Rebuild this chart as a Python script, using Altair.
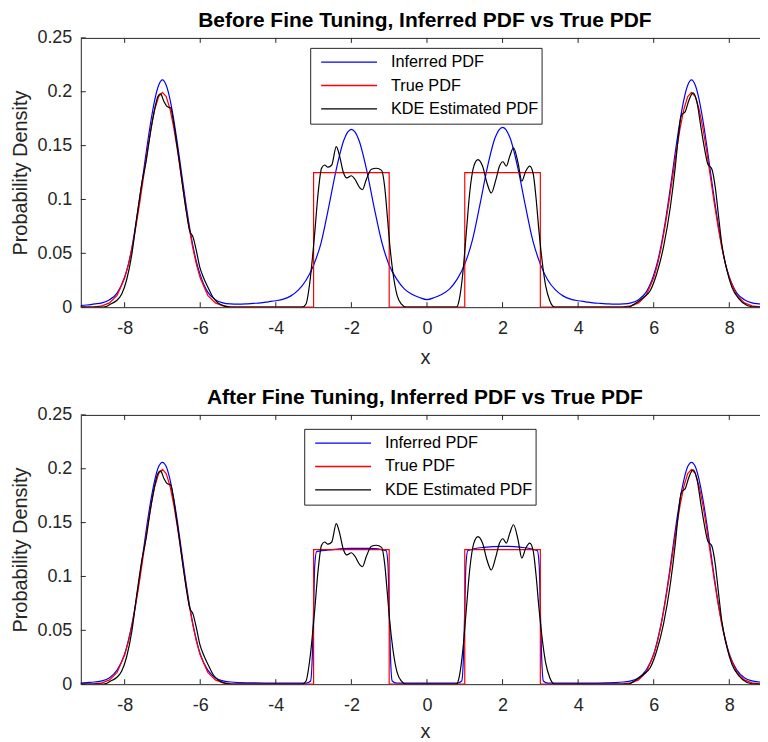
import altair as alt
import pandas as pd

FONT = "Liberation Sans"
AX = "#262626"

# ---------------- data ----------------
x_ticks = [-8, -6, -4, -2, 0, 2, 4, 6, 8]
y_ticks = [0, 0.05, 0.1, 0.15, 0.2, 0.25]
series_names = ["Inferred PDF", "True PDF", "KDE Estimated PDF"]
series_colors = ["#0000ff", "#ff0000", "#000000"]
panel_titles = ["Before Fine Tuning, Inferred PDF vs True PDF",
                "After Fine Tuning, Inferred PDF vs True PDF"]

# Inferred PDF before fine tuning (blue, top panel)
inf_before_x = [-9.2, -9.0, -8.8, -8.6, -8.4, -8.2, -8.0, -7.9, -7.8, -7.7, -7.6, -7.5, -7.4, -7.3, -7.2,
                -7.1, -7.0, -6.9, -6.8, -6.7, -6.6, -6.5, -6.4, -6.3, -6.2, -6.1, -6.0, -5.8, -5.6, -5.4,
                -5.2, -5.0, -4.8, -4.6, -4.4, -4.2, -4.0, -3.8, -3.6, -3.4, -3.2, -3.0, -2.8, -2.6, -2.4,
                -2.2, -2.0, -1.8, -1.6, -1.4, -1.2, -1.0, -0.8, -0.6, -0.4, -0.2, 0.0, 0.2, 0.4, 0.6,
                0.8, 1.0, 1.2, 1.4, 1.6, 1.8, 2.0, 2.2, 2.4, 2.6, 2.8, 3.0, 3.2, 3.4, 3.6,
                3.8, 4.0, 4.2, 4.4, 4.6, 4.8, 5.0, 5.2, 5.4, 5.6, 5.8, 6.0, 6.1, 6.2, 6.3,
                6.4, 6.5, 6.6, 6.7, 6.8, 6.9, 7.0, 7.1, 7.2, 7.3, 7.4, 7.5, 7.6, 7.7, 7.8,
                7.9, 8.0, 8.2, 8.4, 8.6, 8.8, 9.0, 9.2]
inf_before_y = [0.0015, 0.002, 0.003, 0.004, 0.007, 0.013, 0.028, 0.040, 0.057, 0.078, 0.101, 0.126, 0.151, 0.174, 0.193,
                0.206, 0.211, 0.206, 0.193, 0.174, 0.151, 0.126, 0.101, 0.078, 0.058, 0.042, 0.030, 0.014, 0.007, 0.004,
                0.003, 0.0028, 0.003, 0.0035, 0.004, 0.005, 0.006, 0.0075, 0.0105, 0.016, 0.025, 0.039, 0.060, 0.093, 0.128,
                0.155, 0.165, 0.155, 0.128, 0.093, 0.061, 0.039, 0.026, 0.017, 0.012, 0.009, 0.007, 0.009, 0.012, 0.017,
                0.026, 0.040, 0.062, 0.095, 0.130, 0.157, 0.167, 0.157, 0.130, 0.095, 0.062, 0.040, 0.025, 0.016, 0.0105,
                0.0075, 0.006, 0.005, 0.004, 0.0035, 0.003, 0.0028, 0.003, 0.004, 0.007, 0.014, 0.030, 0.042, 0.058, 0.078,
                0.101, 0.126, 0.151, 0.174, 0.193, 0.206, 0.211, 0.206, 0.193, 0.174, 0.151, 0.126, 0.101, 0.078, 0.057,
                0.040, 0.028, 0.013, 0.007, 0.004, 0.003, 0.002, 0.0015]

# Inferred PDF after fine tuning (blue, bottom panel)
inf_after_x = [-9.2, -9.0, -8.8, -8.6, -8.4, -8.2, -8.0, -7.9, -7.8, -7.7, -7.6, -7.5, -7.4, -7.3, -7.2,
               -7.1, -7.0, -6.9, -6.8, -6.7, -6.6, -6.5, -6.4, -6.3, -6.2, -6.1, -6.0, -5.8, -5.6, -5.4,
               -5.2, -5.0, -4.0, -3.2, -3.08, -3.03, -3.0, -2.97, -2.92, -2.5, -2.0, -1.5, -1.08, -1.03, -1.0,
               -0.97, -0.92, -0.8, 0.0, 0.8, 0.92, 0.97, 1.0, 1.03, 1.08, 1.5, 2.0, 2.5, 2.92, 2.97,
               3.0, 3.03, 3.08, 3.2, 4.0, 5.0, 5.2, 5.4, 5.6, 5.8, 6.0, 6.1, 6.2, 6.3, 6.4,
               6.5, 6.6, 6.7, 6.8, 6.9, 7.0, 7.1, 7.2, 7.3, 7.4, 7.5, 7.6, 7.7, 7.8, 7.9,
               8.0, 8.2, 8.4, 8.6, 8.8, 9.0, 9.2]
inf_after_y = [0.001, 0.0015, 0.002, 0.003, 0.006, 0.013, 0.028, 0.041, 0.057, 0.077, 0.100, 0.125, 0.150, 0.172, 0.190,
               0.202, 0.206, 0.202, 0.190, 0.172, 0.150, 0.125, 0.100, 0.077, 0.057, 0.041, 0.028, 0.013, 0.006, 0.003,
               0.002, 0.0015, 0.001, 0.001, 0.003, 0.030, 0.070, 0.110, 0.123, 0.125, 0.126, 0.126, 0.124, 0.110, 0.070,
               0.030, 0.003, 0.001, 0.001, 0.001, 0.003, 0.030, 0.070, 0.110, 0.124, 0.127, 0.128, 0.127, 0.124, 0.110,
               0.070, 0.030, 0.003, 0.001, 0.001, 0.0015, 0.002, 0.003, 0.006, 0.013, 0.028, 0.041, 0.057, 0.077, 0.100,
               0.125, 0.150, 0.172, 0.190, 0.202, 0.206, 0.202, 0.190, 0.172, 0.150, 0.125, 0.100, 0.077, 0.057, 0.041,
               0.028, 0.013, 0.006, 0.003, 0.002, 0.0015, 0.001]

# True PDF (red, both panels)
true_x = [-9.2, -9.0, -8.8, -8.6, -8.4, -8.2, -8.0, -7.9, -7.8, -7.7, -7.6, -7.5, -7.4, -7.3, -7.2,
          -7.1, -7.0, -6.9, -6.8, -6.7, -6.6, -6.5, -6.4, -6.3, -6.2, -6.1, -6.0, -5.8, -5.6, -5.4,
          -5.2, -5.0, -3.0, -3.0, -1.0, -1.0, 1.0, 1.0, 3.0, 3.0, 5.0, 5.2, 5.4, 5.6, 5.8,
          6.0, 6.1, 6.2, 6.3, 6.4, 6.5, 6.6, 6.7, 6.8, 6.9, 7.0, 7.1, 7.2, 7.3, 7.4,
          7.5, 7.6, 7.7, 7.8, 7.9, 8.0, 8.2, 8.4, 8.6, 8.8, 9.0, 9.2]
true_y = [0.0, 0.0001, 0.0003, 0.0012, 0.004, 0.011, 0.027, 0.0395, 0.0555, 0.075, 0.097, 0.121, 0.145, 0.1665, 0.184,
          0.1955, 0.1995, 0.1955, 0.184, 0.1665, 0.145, 0.121, 0.097, 0.075, 0.0555, 0.0395, 0.027, 0.011, 0.004, 0.0012,
          0.0003, 0.0001, 0.0, 0.125, 0.125, 0.0, 0.0, 0.125, 0.125, 0.0, 0.0001, 0.0003, 0.0012, 0.004, 0.011,
          0.027, 0.0395, 0.0555, 0.075, 0.097, 0.121, 0.145, 0.1665, 0.184, 0.1955, 0.1995, 0.1955, 0.184, 0.1665, 0.145,
          0.121, 0.097, 0.075, 0.0555, 0.0395, 0.027, 0.011, 0.004, 0.0012, 0.0003, 0.0001, 0.0]

# KDE estimated PDF (black, both panels)
kde_x = [-9.2, -8.6, -8.5, -8.39, -8.22, -8.08, -7.95, -7.81, -7.68, -7.55,
         -7.42, -7.34, -7.2, -7.12, -7.05, -6.96, -6.87, -6.78, -6.72, -6.63,
         -6.54, -6.46, -6.37, -6.28, -6.19, -6.1, -6.01, -5.92, -5.79, -5.66,
         -5.53, -5.35, -5.2,
         -3.3, -3.2, -3.1, -2.97, -2.88, -2.79, -2.71, -2.62, -2.52, -2.4,
         -2.31, -2.22, -2.12, -2.0, -1.91, -1.78, -1.71, -1.6, -1.47, -1.34,
         -1.2, -1.12, -1.05, -0.99, -0.9, -0.79, -0.68, -0.55,
         0.78, 0.86, 0.95, 1.04, 1.13, 1.24, 1.35, 1.47, 1.59, 1.7,
         1.82, 1.92, 2.01, 2.1, 2.19, 2.29, 2.41, 2.51, 2.61, 2.72,
         2.81, 2.89, 2.96, 3.04, 3.14, 3.25, 3.38,
         5.29, 5.56, 5.73, 5.91, 6.08, 6.26, 6.44, 6.57, 6.66, 6.73,
         6.84, 6.92, 7.04, 7.14, 7.25, 7.34, 7.43, 7.54, 7.63, 7.72,
         7.8, 7.94, 8.07, 8.25, 8.47, 8.7, 9.2]
kde_y = [0.0, 0.0, 0.0005, 0.0025, 0.006, 0.012, 0.025, 0.049, 0.083, 0.114,
         0.138, 0.157, 0.185, 0.1955, 0.198, 0.191, 0.186, 0.185, 0.175, 0.154,
         0.132, 0.111, 0.089, 0.071, 0.065, 0.052, 0.037, 0.028, 0.018, 0.009,
         0.004, 0.001, 0.0,
         0.0, 0.003, 0.023, 0.069, 0.106, 0.129, 0.132, 0.130, 0.132, 0.149,
         0.140, 0.126, 0.120, 0.122, 0.119, 0.111, 0.109, 0.119, 0.128, 0.129,
         0.127, 0.112, 0.085, 0.060, 0.032, 0.011, 0.003, 0.0,
         0.0, 0.008, 0.032, 0.069, 0.106, 0.131, 0.137, 0.131, 0.115, 0.106,
         0.118, 0.131, 0.135, 0.131, 0.140, 0.148, 0.134, 0.117, 0.126, 0.131,
         0.124, 0.100, 0.072, 0.045, 0.020, 0.006, 0.0,
         0.0, 0.0046, 0.009, 0.0155, 0.031, 0.056, 0.093, 0.130, 0.161, 0.178,
         0.182, 0.191, 0.199, 0.191, 0.167, 0.148, 0.133, 0.128, 0.111, 0.083,
         0.059, 0.034, 0.0185, 0.008, 0.0016, 0.0, 0.0]

# ---------------- chart ----------------
W = 690
x_scale = alt.Scale(domain=[-9.16, 9.05], nice=False, zero=False)
y_scale = alt.Scale(domain=[0, 0.25], nice=False, zero=False)


def x_axis(label_pad, title_pad):
    return alt.Axis(values=x_ticks, labelExpr="toString(datum.value)", ticks=False, grid=False,
                    domain=False, labelFontSize=18, labelColor=AX, labelPadding=label_pad,
                    labelFont=FONT, title="x", titleFontSize=20, titleFontWeight="normal",
                    titleColor=AX, titlePadding=title_pad, titleFont=FONT)


y_axis = alt.Axis(values=y_ticks, labelExpr="toString(datum.value)", ticks=False, grid=False,
                  domain=False, labelFontSize=18, labelColor=AX, labelPadding=9, labelFont=FONT,
                  title="Probability Density", titleFontSize=20, titleFontWeight="normal",
                  titleColor=AX, titlePadding=6, titleFont=FONT)


def frame(xs, ys, name):
    df = pd.DataFrame({"x": xs, "y": ys})
    df["series"] = name
    df["i"] = range(len(df))
    return df


def panel(title, inf_x, inf_y, lx, ly, H, label_pad, title_pad):
    xa = x_axis(label_pad, title_pad)

    def X():
        return alt.X("x:Q", scale=x_scale, axis=xa)

    def Y():
        return alt.Y("y:Q", scale=y_scale, axis=y_axis)

    color = alt.Color(
        "series:N",
        scale=alt.Scale(domain=series_names, range=series_colors),
        legend=alt.Legend(title=None, orient="none", legendX=lx, legendY=ly,
                          symbolType="stroke", symbolSize=3136, symbolStrokeWidth=1.3,
                          clipHeight=22.5, rowPadding=0.5, symbolOffset=7, labelOffset=13,
                          labelFontSize=16.3, labelFont=FONT, labelColor="#000000",
                          padding=3, strokeColor=AX, fillColor="#ffffff", labelLimit=400),
    )
    l_inf = alt.Chart(frame(inf_x, inf_y, series_names[0])).mark_line(
        interpolate="monotone", strokeWidth=1.2, clip=True
    ).encode(x=X(), y=Y(), color=color, order="i:Q")
    l_true = alt.Chart(frame(true_x, true_y, series_names[1])).mark_line(
        interpolate="linear", strokeWidth=1.2, clip=True
    ).encode(x=X(), y=Y(), color=color, order="i:Q")
    l_kde = alt.Chart(frame(kde_x, kde_y, series_names[2])).mark_line(
        interpolate="monotone", strokeWidth=1.2, clip=True
    ).encode(x=X(), y=Y(), color=color, order="i:Q")

    tx = pd.DataFrame({"x": x_ticks})
    ty = pd.DataFrame({"y": y_ticks})
    t_b = alt.Chart(tx).mark_rule(color=AX, strokeWidth=1).encode(
        x=X(), y=alt.value(H), y2=alt.value(H - 5))
    t_t = alt.Chart(tx).mark_rule(color=AX, strokeWidth=1).encode(
        x=X(), y=alt.value(0), y2=alt.value(5))
    t_l = alt.Chart(ty).mark_rule(color=AX, strokeWidth=1).encode(
        y=Y(), x=alt.value(0), x2=alt.value(5))
    t_r = alt.Chart(ty).mark_rule(color=AX, strokeWidth=1).encode(
        y=Y(), x=alt.value(W - 5), x2=alt.value(W))

    return alt.layer(l_inf, l_true, l_kde, t_b, t_t, t_l, t_r).properties(
        width=W, height=H,
        title=alt.TitleParams(title, fontSize=21, fontWeight="bold", font=FONT,
                              color="#000000", offset=-2, anchor="middle"),
    )


top = panel(panel_titles[0], inf_before_x, inf_before_y, 230, 10, 270, 12, 10)
bottom = panel(panel_titles[1], inf_after_x, inf_after_y, 224, 14, 270, 12, 7)

chart = (
    alt.vconcat(top, bottom, spacing=18)
    .resolve_scale(color="independent")
    .resolve_legend(color="independent")
    .properties(padding={"left": 2, "top": 0, "right": -10, "bottom": 0})
    .configure(font=FONT)
    .configure_view(stroke=AX, strokeWidth=1)
)

chart.save("out.html", embed_options={"renderer": "svg", "actions": False})
